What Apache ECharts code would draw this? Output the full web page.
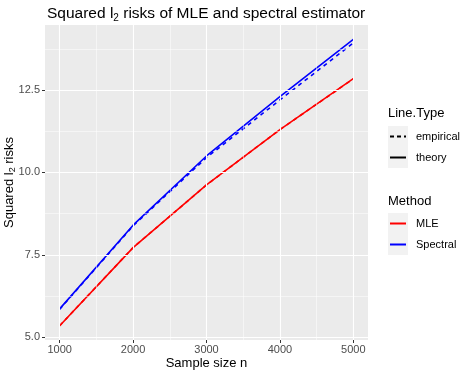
<!DOCTYPE html>
<html>
<head>
<meta charset="utf-8">
<script src="https://cdn.jsdelivr.net/npm/echarts@6/dist/echarts.min.js"></script>
<style>
  html, body { margin: 0; padding: 0; background: #fff; }
  #chart { width: 460px; height: 370px; }
</style>
</head>
<body>
<div id="chart"></div>
<script>
// values
const sampleSizes = [1000, 2000, 3000, 4000, 5000];
const mleTheory = [5.35, 7.72, 9.62, 11.30, 12.85];
const mleEmpirical = [5.35, 7.72, 9.62, 11.30, 12.84];
const spectralTheory = [5.86, 8.40, 10.50, 12.30, 14.04];
const spectralEmpirical = [5.85, 8.38, 10.45, 12.20, 13.93];

const xTicks = [1000, 2000, 3000, 4000, 5000];
const xMinorTicks = [1500, 2500, 3500, 4500];
const yTicks = [5.0, 7.5, 10.0, 12.5];
const yMinorTicks = [6.25, 8.75, 11.25, 13.75];

const FONT = 'Liberation Sans';

function pairs(xs, ys) {
    return xs.map(function (x, i) { return [x, ys[i]]; });
}

// ggplot style 5% expansion
let xLo = Math.min.apply(null, sampleSizes), xHi = Math.max.apply(null, sampleSizes);
let allY = mleTheory.concat(mleEmpirical, spectralTheory, spectralEmpirical);
let yLo = Math.min.apply(null, allY), yHi = Math.max.apply(null, allY);
const xMin = xLo - (xHi - xLo) * 0.05, xMax = xHi + (xHi - xLo) * 0.05;
const yMin = yLo - (yHi - yLo) * 0.05, yMax = yHi + (yHi - yLo) * 0.05;

let gridLines = [];
xTicks.forEach(function (v) { gridLines.push({ xAxis: v, lineStyle: { width: 1.1 } }); });
xMinorTicks.forEach(function (v) { gridLines.push({ xAxis: v, lineStyle: { width: 0.5 } }); });
yTicks.forEach(function (v) { gridLines.push({ yAxis: v, lineStyle: { width: 1.1 } }); });
yMinorTicks.forEach(function (v) { gridLines.push({ yAxis: v, lineStyle: { width: 0.5 } }); });

function lineSeries(name, color, values, dashed) {
    return {
        name: name,
        type: 'line',
        data: pairs(sampleSizes, values),
        symbol: 'none',
        z: 3,
        silent: true,
        lineStyle: { color: color, width: 1.6, type: dashed ? [4, 4] : 'solid' },
        itemStyle: { color: color }
    };
}

let dom = document.getElementById('chart');
let myChart = echarts.init(dom, null, { renderer: 'canvas' });

// legend keys on the right
const legendX = 388;
function keyBox(y) {
    return { type: 'rect', shape: { x: legendX, y: y, width: 20, height: 21 }, style: { fill: '#F2F2F2' }, silent: true };
}
function keyLine(y, color, dashed) {
    return { type: 'line', shape: { x1: legendX + 2, y1: y, x2: legendX + 18, y2: y },
        style: { stroke: color, lineWidth: 2, lineDash: dashed ? [4, 3] : null }, silent: true };
}
function keyText(y, text, size, left) {
    return { type: 'text', x: left, y: y, style: { text: text, font: size + 'px ' + FONT, fill: '#000', verticalAlign: 'middle' }, silent: true };
}

let option = {
    animation: false,
    backgroundColor: '#fff',
    textStyle: { fontFamily: FONT },
    title: {
        text: '{a|Squared l}{s|2}{a| risks of MLE and spectral estimator}',
        left: 42,
        top: 0,
        textStyle: {
            rich: {
                a: { fontFamily: FONT, fontSize: 15.5, fontWeight: 'normal', color: '#000', lineHeight: 18 },
                s: { fontFamily: FONT, fontSize: 10, fontWeight: 'normal', color: '#000', lineHeight: 18, verticalAlign: 'bottom', padding: [6, 0, 0, 0] }
            }
        }
    },
    grid: {
        left: 45, right: 92, top: 25, bottom: 30,
        outerBoundsMode: 'none',
        containLabel: false,
        show: true, backgroundColor: '#EBEBEB', borderWidth: 0
    },
    xAxis: {
        type: 'value',
        min: xMin,
        max: xMax,
        name: 'Sample size n',
        nameLocation: 'middle',
        nameGap: 17,
        nameMoveOverlap: false,
        nameTextStyle: { fontFamily: FONT, fontSize: 13, color: '#000' },
        axisLine: { show: false },
        axisTick: { show: true, length: 3, customValues: xTicks, lineStyle: { color: '#333', width: 1 } },
        axisLabel: {
            customValues: xTicks, margin: 4, color: '#4D4D4D', fontFamily: FONT, fontSize: 11,
            formatter: function (v) { return String(v); }
        },
        splitLine: { show: false }
    },
    yAxis: {
        type: 'value',
        min: yMin,
        max: yMax,
        name: '{a|Squared l}{s|2}{a| risks}',
        nameLocation: 'middle',
        nameRotate: 90,
        nameGap: 28,
        nameMoveOverlap: false,
        nameTextStyle: {
            rich: {
                a: { fontFamily: FONT, fontSize: 13, color: '#000', lineHeight: 16 },
                s: { fontFamily: FONT, fontSize: 9, color: '#000', lineHeight: 16, verticalAlign: 'bottom', padding: [5, 0, 0, 0] }
            }
        },
        axisLine: { show: false },
        axisTick: { show: true, length: 3, customValues: yTicks, lineStyle: { color: '#333', width: 1 } },
        axisLabel: {
            customValues: yTicks, margin: 5, color: '#4D4D4D', fontFamily: FONT, fontSize: 11,
            formatter: function (v) { return v.toFixed(1); }
        },
        splitLine: { show: false }
    },
    graphic: [
        keyText(113, 'Line.Type', 13, legendX),
        keyBox(126), keyBox(147),
        keyLine(136.5, '#000', true),
        keyLine(157.5, '#000', false),
        keyText(136.5, 'empirical', 11, 416),
        keyText(157.5, 'theory', 11, 416),
        keyText(201, 'Method', 13, legendX),
        keyBox(213), keyBox(234),
        keyLine(223.5, '#FF0000', false),
        keyLine(244.5, '#0000FF', false),
        keyText(223.5, 'MLE', 11, 416),
        keyText(244.5, 'Spectral', 11, 416)
    ],
    series: [
        {
            name: 'grid',
            type: 'line',
            data: [],
            z: 1,
            silent: true,
            markLine: {
                silent: true,
                symbol: ['none', 'none'],
                label: { show: false },
                lineStyle: { color: '#FFFFFF', type: 'solid' },
                emphasis: { disabled: true },
                data: gridLines
            }
        },
        lineSeries('MLE empirical', '#FF0000', mleEmpirical, true),
        lineSeries('MLE theory', '#FF0000', mleTheory, false),
        lineSeries('Spectral empirical', '#0000FF', spectralEmpirical, true),
        lineSeries('Spectral theory', '#0000FF', spectralTheory, false)
    ]
};

option && myChart.setOption(option);
</script>
</body>
</html>
